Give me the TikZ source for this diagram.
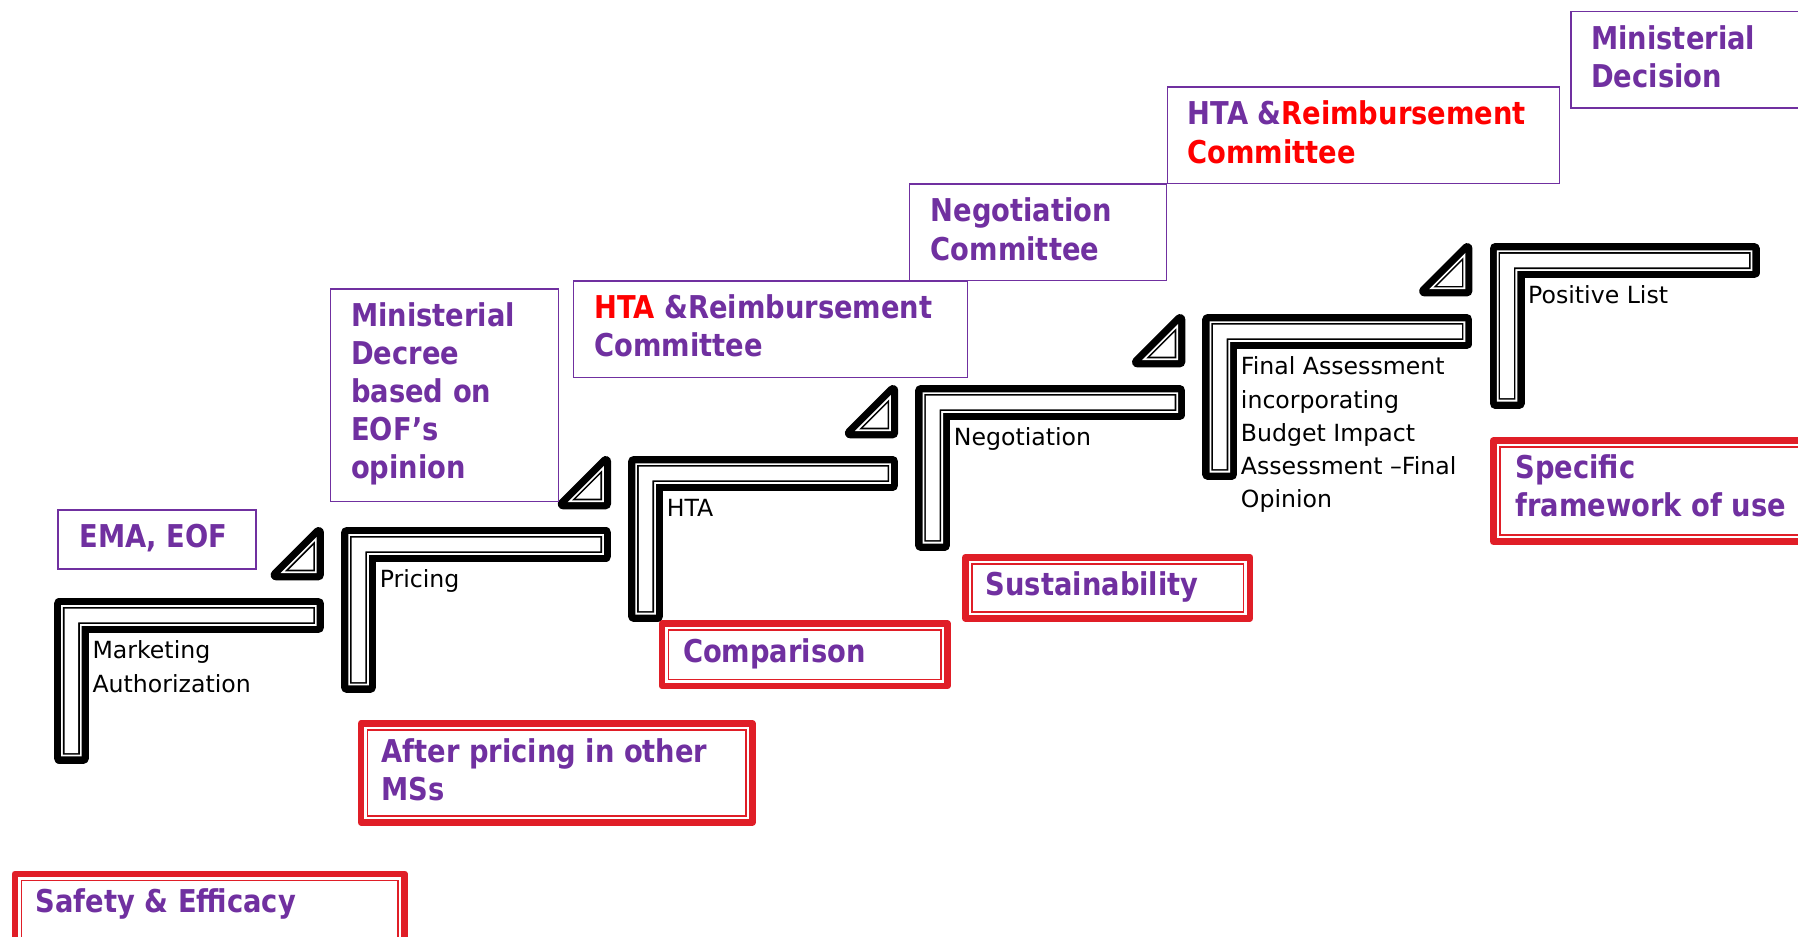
\documentclass[tikz,border=0pt]{standalone}
\usepackage{fontspec}
\setmainfont{DejaVu Sans}
\newfontfamily\pfont[FakeStretch=0.87]{DejaVu Sans}
\definecolor{purp}{RGB}{112,48,160}
\definecolor{redt}{RGB}{255,0,0}
\definecolor{redb}{RGB}{224,30,39}
% L-shaped step: #1 left, #2 top, #3 inset, #4 style
\newcommand\Lfill[4]{\path[#4] ({#1+#3},{#2+#3}) -- ({#1+235.5-#3},{#2+#3}) -- ({#1+235.5-#3},{#2+30.5-#3}) -- ({#1+30.5-#3},{#2+30.5-#3}) -- ({#1+30.5-#3},{#2+144.5-#3}) -- ({#1+#3},{#2+144.5-#3}) -- cycle;}
\newcommand\stepshape[2]{%
  \Lfill{#1}{#2}{4.65}{fill=black,draw=black,line width=9.3,line join=round}%
  \Lfill{#1}{#2}{6.3}{fill=white}%
  \Lfill{#1}{#2}{7.9}{fill=black}%
  \Lfill{#1}{#2}{9.3}{fill=white}}
% triangle: #1 right, #2 top, #3 inset, #4 style
\newcommand\Tfill[4]{\path[#4] ({#1-4.65-#3},{#2+4.65+2.414*#3}) -- ({#1-41.85+2.414*#3},{#2+41.85-#3}) -- ({#1-4.65-#3},{#2+41.85-#3}) -- cycle;}
\newcommand\triashape[2]{%
  \Tfill{#1}{#2}{0}{fill=black,draw=black,line width=9.3,line join=round}%
  \Tfill{#1}{#2}{1.65}{fill=white}%
  \Tfill{#1}{#2}{3.25}{fill=black}%
  \Tfill{#1}{#2}{4.65}{fill=white}}
\newcommand\redframe[4]{%
  \draw[redb,line width=5.8,line join=round] ({#1+2.9},{#2+2.9}) rectangle ({#3-2.9},{#4-2.9});
  \draw[redb,line width=1.5] ({#1+8.55},{#2+8.55}) rectangle ({#3-8.55},{#4-8.55});}
\tikzset{
  purpbox/.style={draw=purp,line width=1.3},
  ptext/.style={anchor=base west,inner sep=0pt,align=left,text=purp,font=\pfont\bfseries\fontsize{27.4}{33.3}\selectfont},
  btext/.style={anchor=base west,inner sep=0pt,align=left,text=black,font=\fontsize{20.6}{29}\selectfont}
}
\begin{document}
\begin{tikzpicture}[x=1pt,y=-1pt]
\useasboundingbox (0,0) rectangle (1568,816.3);
\clip (0,0) rectangle (1568,816.3);
\fill[white] (0,0) rectangle (1568,816.3);
% steps
\stepshape{47}{521.5}
\stepshape{297.4}{459.6}
\stepshape{547.8}{397.7}
\stepshape{798.2}{335.8}
\stepshape{1048.6}{273.9}
\stepshape{1299}{212}
% triangles
\triashape{282.5}{459.6}
\triashape{532.9}{397.7}
\triashape{783.3}{335.8}
\triashape{1033.7}{273.9}
\triashape{1284.1}{212}
% step labels (anchor = baseline of last line)
\node[btext] (s1) at (80.5,603.5) {Marketing\\Authorization};
\node[btext] (s2) at (331,512.6) {Pricing};
\node[btext] (s3) at (581.3,450.7) {HTA};
\node[btext] (s4) at (831.7,388.8) {Negotiation};
\node[btext] (s5) at (1082,442.9) {Final Assessment\\incorporating\\Budget Impact\\Assessment –Final\\Opinion};
\node[btext] (s6) at (1332.5,265) {Positive List};
% purple boxes
\draw[purpbox] (50.6,444.8) rectangle (223.3,496.2);
\draw[purpbox] (288.4,252) rectangle (486.9,437.5);
\draw[purpbox] (500,245) rectangle (843.6,329.4);
\draw[purpbox] (793,160.5) rectangle (1017.4,244.8);
\draw[purpbox] (1018,76) rectangle (1360,160);
\draw[purpbox] (1370,10) rectangle (1600,94);
\node[ptext] (ema) at (69,477.6) {EMA, EOF};
\node[ptext] (decree) at (306,417.7) {Ministerial\\Decree\\based on\\EOF’s\\opinion};
\node[ptext] (hta1) at (518,311.3) {{\color{redt}HTA} \&Reimbursement\\Committee};
\node[ptext] (neg) at (811.5,226.8) {Negotiation\\Committee};
\node[ptext] (hta2) at (1035.5,142.3) {HTA \&{\color{redt}Reimbursement}\\{\color{redt}Committee}};
\node[ptext] (decision) at (1387.5,76.3) {Ministerial\\Decision};
% red boxes
\redframe{10.2}{759.3}{355.8}{840}
\redframe{312}{628}{659}{720}
\redframe{574.5}{541}{829}{601}
\redframe{839}{483}{1093}{542}
\redframe{1299.4}{381.4}{1610}{475.3}
\node[ptext] (safety) at (31,796) {Safety \& Efficacy};
\node[ptext] (after) at (332.5,698.3) {After pricing in other\\MSs};
\node[ptext] (comp) at (595.5,578) {Comparison};
\node[ptext] (sust) at (859.5,519) {Sustainability};
\node[ptext] (spec) at (1321.5,450.3) {Specific\\framework of use};
\end{tikzpicture}
\end{document}
